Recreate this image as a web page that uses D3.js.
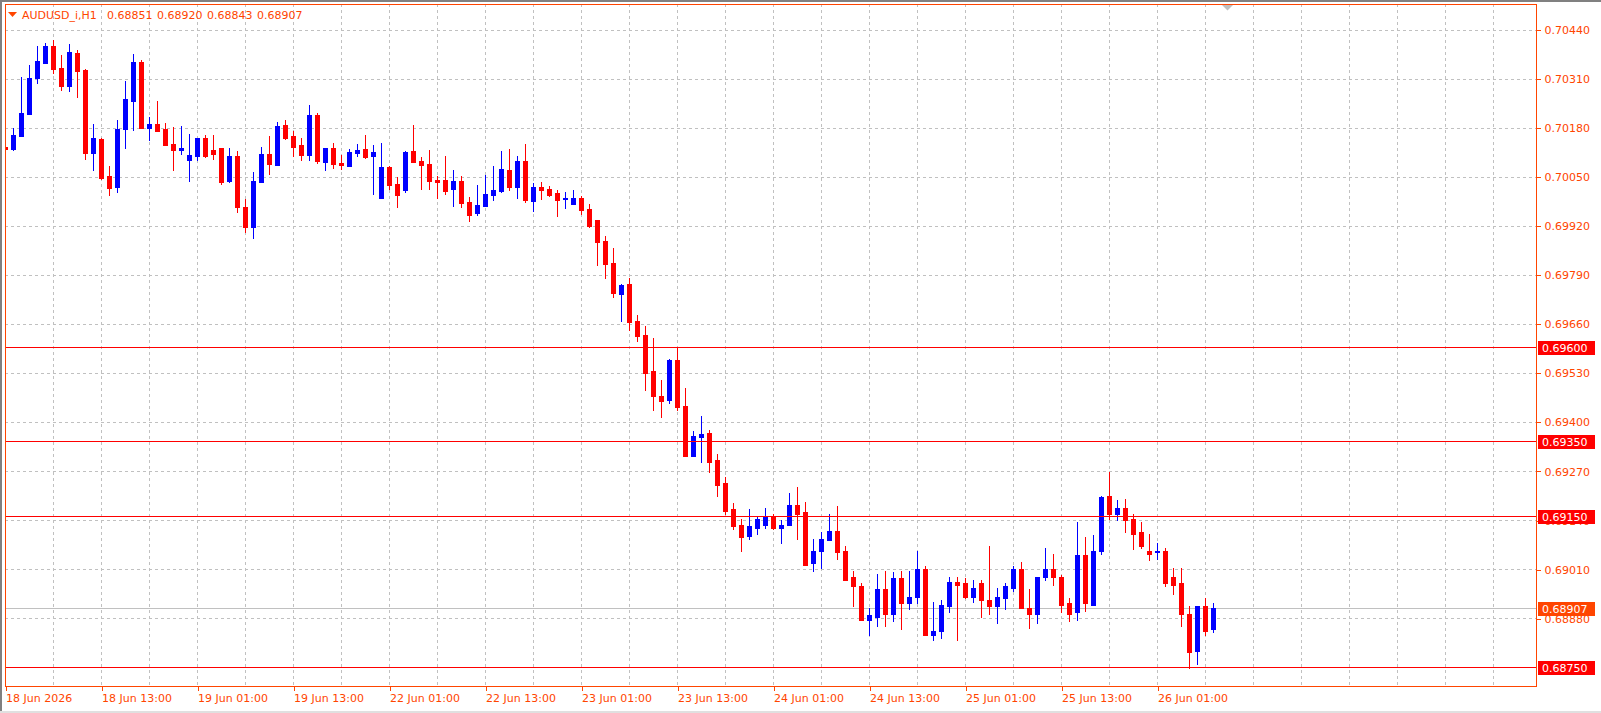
<!DOCTYPE html>
<html><head><meta charset="utf-8">
<script src="https://cdn.jsdelivr.net/npm/d3@7/dist/d3.min.js"></script>
<style>
html,body{margin:0;padding:0;background:#fff;overflow:hidden}
svg{display:block}
text{font-family:"DejaVu Sans",sans-serif;font-size:11px}
</style></head><body>
<script>
// ---------- data ----------
const symbolTitle = "AUDUSD_i,H1";
const opens = [0.70129,0.70123,0.70158,0.70216,0.70312,0.70351,0.70396,0.70338,0.70290,0.70378,
0.70333,0.70113,0.70150,0.70052,0.70022,0.70176,0.70251,0.70354,0.70179,0.70190,
0.70176,0.70136,0.70121,0.70094,0.70105,0.70152,0.70121,0.70126,0.70038,0.70105,
0.69969,0.69916,0.70036,0.70110,0.70081,0.70187,0.70158,0.70134,0.70107,0.70213,
0.70089,0.70126,0.70086,0.70078,0.70113,0.70123,0.70105,0.69993,0.70075,0.70030,
0.70014,0.70118,0.70091,0.70083,0.70041,0.70041,0.70017,0.70038,0.69983,0.69953,
0.69972,0.70001,0.70012,0.70068,0.70022,0.70091,0.69985,0.70022,0.70017,0.70006,
0.69991,0.69977,0.69993,0.69964,0.69935,0.69879,0.69821,0.69739,0.69765,0.69667,
0.69630,0.69534,0.69468,0.69457,0.69563,0.69441,0.69311,0.69359,0.69370,0.69298,
0.69237,0.69168,0.69126,0.69097,0.69120,0.69128,0.69152,0.69120,0.69126,0.69179,
0.69160,0.69025,0.69057,0.69086,0.69110,0.69057,0.68988,0.68964,0.68876,0.68884,
0.68956,0.68892,0.68985,0.68921,0.68935,0.69009,0.68834,0.68847,0.68911,0.68977,
0.68974,0.68935,0.68974,0.68929,0.68913,0.68932,0.68961,0.69009,0.68908,0.68890,
0.68988,0.69009,0.68990,0.68919,0.68895,0.69046,0.68916,0.69057,0.69205,0.69157,
0.69173,0.69144,0.69107,0.69059,0.69054,0.69057,0.68990,0.68974,0.68892,0.68794,
0.68911,0.68851];
const highs = [0.70152,0.70179,0.70314,0.70346,0.70396,0.70404,0.70412,0.70373,0.70402,0.70386,
0.70335,0.70190,0.70152,0.70078,0.70200,0.70304,0.70375,0.70359,0.70208,0.70251,
0.70192,0.70182,0.70184,0.70163,0.70152,0.70160,0.70160,0.70126,0.70126,0.70118,
0.69991,0.70062,0.70129,0.70158,0.70195,0.70200,0.70171,0.70152,0.70240,0.70219,
0.70126,0.70139,0.70107,0.70123,0.70136,0.70160,0.70134,0.70139,0.70078,0.70049,
0.70118,0.70187,0.70102,0.70121,0.70052,0.70105,0.70068,0.70052,0.69996,0.70028,
0.70054,0.70078,0.70118,0.70123,0.70105,0.70136,0.70033,0.70036,0.70025,0.70014,
0.70009,0.70014,0.69999,0.69977,0.69935,0.69892,0.69861,0.69765,0.69781,0.69683,
0.69654,0.69622,0.69510,0.69566,0.69595,0.69489,0.69375,0.69415,0.69378,0.69314,
0.69253,0.69184,0.69142,0.69168,0.69150,0.69173,0.69157,0.69139,0.69211,0.69227,
0.69187,0.69091,0.69107,0.69155,0.69176,0.69070,0.69004,0.68972,0.68908,0.68996,
0.69006,0.69001,0.69004,0.69004,0.69057,0.69017,0.68924,0.68927,0.68990,0.68990,
0.68985,0.68980,0.68982,0.69070,0.68961,0.68974,0.69017,0.69030,0.68956,0.68990,
0.69065,0.69049,0.68993,0.68932,0.69136,0.69094,0.69099,0.69205,0.69266,0.69192,
0.69197,0.69155,0.69134,0.69104,0.69078,0.69065,0.69012,0.69012,0.68911,0.68911,
0.68932,0.68920];
const lows = [0.70107,0.70121,0.70158,0.70216,0.70298,0.70351,0.70325,0.70280,0.70277,0.70261,
0.70097,0.70068,0.70044,0.70001,0.70009,0.70126,0.70174,0.70179,0.70147,0.70171,
0.70134,0.70068,0.70110,0.70038,0.70094,0.70102,0.70097,0.70030,0.70036,0.69956,
0.69903,0.69887,0.70036,0.70057,0.70081,0.70150,0.70105,0.70094,0.70094,0.70086,
0.70068,0.70073,0.70070,0.70078,0.70105,0.70099,0.70004,0.69993,0.70017,0.69969,
0.70009,0.70089,0.70017,0.70017,0.69993,0.70004,0.69972,0.69969,0.69932,0.69948,
0.69972,0.69988,0.70009,0.70014,0.69993,0.69983,0.69959,0.69991,0.69999,0.69945,
0.69967,0.69977,0.69951,0.69916,0.69816,0.69781,0.69731,0.69667,0.69643,0.69614,
0.69486,0.69433,0.69412,0.69449,0.69431,0.69309,0.69309,0.69295,0.69266,0.69203,
0.69155,0.69115,0.69059,0.69091,0.69102,0.69120,0.69115,0.69078,0.69126,0.69091,
0.69020,0.69004,0.69014,0.69086,0.69036,0.68980,0.68911,0.68874,0.68834,0.68860,
0.68860,0.68871,0.68852,0.68905,0.68921,0.68834,0.68821,0.68826,0.68895,0.68821,
0.68932,0.68924,0.68882,0.68892,0.68866,0.68905,0.68953,0.68908,0.68855,0.68868,
0.68980,0.68969,0.68895,0.68871,0.68874,0.68900,0.68916,0.69049,0.69144,0.69139,
0.69107,0.69062,0.69067,0.69033,0.69038,0.68964,0.68945,0.68858,0.68749,0.68757,
0.68834,0.68843];
const closes = [0.70123,0.70160,0.70219,0.70312,0.70357,0.70396,0.70335,0.70290,0.70381,0.70330,
0.70113,0.70152,0.70046,0.70020,0.70176,0.70256,0.70354,0.70179,0.70190,0.70171,
0.70134,0.70121,0.70126,0.70107,0.70152,0.70105,0.70110,0.70036,0.70105,0.69969,
0.69916,0.70038,0.70110,0.70083,0.70184,0.70152,0.70129,0.70107,0.70213,0.70091,
0.70126,0.70083,0.70081,0.70115,0.70121,0.70102,0.70115,0.70075,0.70028,0.70001,
0.70115,0.70089,0.70081,0.70038,0.70036,0.70012,0.70038,0.69980,0.69948,0.69975,
0.70004,0.70014,0.70070,0.70022,0.70091,0.69988,0.70022,0.70014,0.70001,0.69988,
0.69993,0.69993,0.69961,0.69919,0.69876,0.69818,0.69741,0.69762,0.69664,0.69627,
0.69529,0.69468,0.69455,0.69563,0.69439,0.69311,0.69362,0.69367,0.69295,0.69234,
0.69165,0.69123,0.69094,0.69123,0.69142,0.69152,0.69118,0.69128,0.69179,0.69157,
0.69022,0.69059,0.69089,0.69110,0.69054,0.68982,0.68964,0.68876,0.68887,0.68956,
0.68892,0.68985,0.68921,0.68937,0.69009,0.68834,0.68847,0.68916,0.68977,0.68969,
0.68935,0.68961,0.68927,0.68913,0.68935,0.68964,0.69009,0.68908,0.68890,0.68990,
0.69009,0.68990,0.68916,0.68892,0.69046,0.68919,0.69057,0.69200,0.69155,0.69171,
0.69139,0.69102,0.69070,0.69049,0.69057,0.68974,0.68969,0.68890,0.68789,0.68911,
0.68847,0.68907];

const timeTickBars = [0,12,24,36,48,60,72,84,96,108,120,132,144];
const timeTickLabels = ["18 Jun 2026","18 Jun 13:00","19 Jun 01:00","19 Jun 13:00","22 Jun 01:00","22 Jun 13:00",
  "23 Jun 01:00","23 Jun 13:00","24 Jun 01:00","24 Jun 13:00","25 Jun 01:00","25 Jun 13:00","26 Jun 01:00"];
const priceTicks = [0.70440,0.70310,0.70180,0.70050,0.69920,0.69790,0.69660,0.69530,0.69400,0.69270,0.69140,0.69010,0.68880];
const levelLines = [0.69600,0.69350,0.69150,0.68750];
const bidPrice = 0.68907;

// ---------- layout ----------
const W = 1601, H = 713;
const plot = {left:5, top:4, right:1536, bottom:686};
const barStep = 8;
const FG = "#ff4500";
const FONT = "DejaVu Sans";

const svg = d3.select("body").append("svg").attr("width",W).attr("height",H);
svg.append("rect").attr("width",W).attr("height",H).attr("fill","#fff");

const y = d3.scaleLinear().domain([0.68700,0.70508]).range([plot.bottom,plot.top]);
const x = d3.scaleLinear().domain([0,(plot.right-plot.left)/barStep]).range([plot.left,plot.right]);
const px = v => Math.round(x(v)) + 0.5;
const py = v => Math.round(y(v)) + 0.5;

const g = svg.append("g").attr("shape-rendering","crispEdges");

// grid
const vGrid = d3.range(6, 191, 6);
g.selectAll(".vg").data(vGrid).enter().append("line")
  .attr("x1",d=>px(d)).attr("x2",d=>px(d)).attr("y1",plot.top).attr("y2",plot.bottom)
  .attr("stroke","#c0c0c0").attr("stroke-dasharray","3,3");
g.selectAll(".hg").data(priceTicks).enter().append("line")
  .attr("x1",plot.left).attr("x2",plot.right).attr("y1",d=>py(d)).attr("y2",d=>py(d))
  .attr("stroke","#c0c0c0").attr("stroke-dasharray","3,3");

// bid line
g.append("line").attr("x1",plot.left).attr("x2",plot.right).attr("y1",py(bidPrice)).attr("y2",py(bidPrice))
  .attr("stroke","#c0c0c0");

// candles
const bars = opens.map((o,i)=>({i,o,h:highs[i],l:lows[i],c:closes[i]}));
const col = d => d.c >= d.o ? "#0000ff" : "#ff0000";
const cg = g.append("g");
cg.selectAll(".wick").data(bars).enter().append("line")
  .attr("x1",d=>px(d.i)).attr("x2",d=>px(d.i))
  .attr("y1",d=>Math.round(y(d.h))).attr("y2",d=>Math.round(y(d.l))+1)
  .attr("stroke",col);
cg.selectAll(".body").data(bars).enter().append("rect")
  .attr("x",d=>Math.round(x(d.i))-2).attr("width",5)
  .attr("y",d=>Math.round(y(Math.max(d.o,d.c))))
  .attr("height",d=>Math.max(1,Math.round(y(Math.min(d.o,d.c)))-Math.round(y(Math.max(d.o,d.c)))+1))
  .attr("fill",col);

// level lines
g.selectAll(".lvl").data(levelLines).enter().append("line")
  .attr("x1",plot.left).attr("x2",plot.right).attr("y1",d=>py(d)).attr("y2",d=>py(d))
  .attr("stroke","#ff0000");

// white margin left of plot (clips first candle)
svg.append("rect").attr("x",0).attr("y",0).attr("width",plot.left).attr("height",H).attr("fill","#fff");

// plot frame
svg.append("rect").attr("x",plot.left+0.5).attr("y",plot.top+0.5)
  .attr("width",plot.right-plot.left).attr("height",plot.bottom-plot.top)
  .attr("fill","none").attr("stroke",FG).attr("shape-rendering","crispEdges");

// price axis
const yAxis = d3.axisRight(y).tickValues(priceTicks).tickFormat(d3.format(".5f")).tickSize(4).tickPadding(4);
const ya = svg.append("g").attr("transform",`translate(${plot.right+0.5},0.5)`).call(yAxis);
ya.select(".domain").remove();
ya.selectAll("line").attr("stroke",FG).attr("shape-rendering","crispEdges");
ya.selectAll("text").attr("fill",FG).style("font-family",FONT).style("font-size","11px");

// time axis
const xAxis = d3.axisBottom(x).tickValues(timeTickBars).tickFormat((d,k)=>timeTickLabels[k]).tickSize(5).tickPadding(3);
const xa = svg.append("g").attr("transform",`translate(0.5,${plot.bottom})`).call(xAxis);
xa.select(".domain").remove();
xa.selectAll("line").attr("stroke",FG).attr("shape-rendering","crispEdges");
xa.selectAll("text").attr("fill",FG).attr("text-anchor","start").attr("x",0)
  .style("font-family",FONT).style("font-size","11px");

// price tags
function tag(v, fill){
  const gy = Math.round(y(v));
  const tg = svg.append("g");
  tg.append("rect").attr("x",plot.right+2).attr("y",gy-6).attr("width",57).attr("height",14).attr("fill",fill);
  tg.append("text").attr("x",plot.right+6).attr("y",gy+5).attr("fill","#fff")
    .style("font-family",FONT).style("font-size","11px").text(d3.format(".5f")(v));
}
levelLines.forEach(v=>tag(v,"#ff0000"));
tag(bidPrice, FG);

// header
const last = opens.length-1;
svg.append("path").attr("d","M8,12 L17,12 L12.5,17 Z").attr("fill",FG);
const headerItems = [symbolTitle, opens[last], highs[last], lows[last], closes[last]];
const headerX = [22,107,157,207,257];
svg.selectAll(".hdr").data(headerItems).enter().append("text")
  .attr("x",(d,k)=>headerX[k]).attr("y",19).attr("fill",FG)
  .style("font-family",FONT).style("font-size","11px")
  .text(d => typeof d === "number" ? d3.format(".5f")(d) : d);

// window frame
svg.append("rect").attr("x",0).attr("y",0).attr("width",W).attr("height",2).attr("fill","#808080");
svg.append("rect").attr("x",0).attr("y",0).attr("width",2).attr("height",H).attr("fill","#808080");
svg.append("rect").attr("x",0).attr("y",H-2).attr("width",W).attr("height",2).attr("fill","#e0e0e0");
// chart shift marker
svg.append("path").attr("d","M1222,5 L1233,5 L1227.5,10.5 Z").attr("fill","#c0c0c0");
</script>
</body></html>
